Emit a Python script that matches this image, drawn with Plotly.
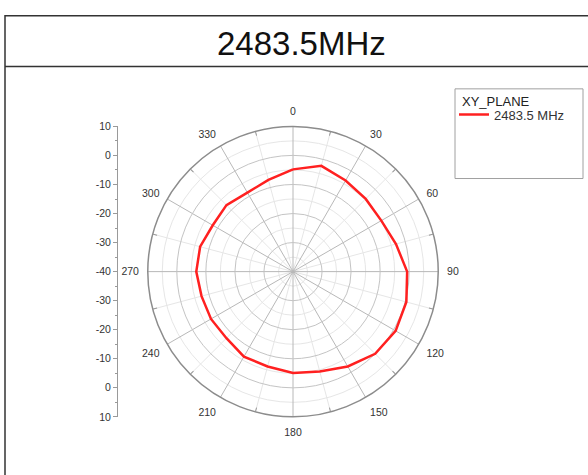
import plotly.graph_objects as go

# ---- data ----
angles = [0, 15, 30, 45, 60, 75, 90, 105, 120, 135, 150, 165,
          180, 195, 210, 225, 240, 255, 270, 285, 300, 315, 330, 345]
gain_db = [-4.8, -2.3, -3.8, -4.6, -4.9, -3.3, -0.7, 0.4, 0.8, 0.0, -2.3, -4.4,
           -5.1, -6.2, -6.2, -7.6, -7.4, -7.4, -6.7, -6.9, -8.1, -7.6, -8.6, -7.3]
series_name = "2483.5 MHz"
legend_title = "XY_PLANE"
chart_title = "2483.5MHz"
r_min, r_max = -40, 10
angle_ticks = list(range(0, 360, 30))
scale_ticks = list(range(-50, 51, 10))  # distance from centre (dB) on the side scale

W, H = 588, 475
cx, cy, R = 293, 272.5, 149
xdom = [(cx - R) / W, (cx + R) / W]
ydom = [(H - cy - R) / H, (H - cy + R) / H]

fig = go.Figure()

# dummy trace to activate the minor-grid polar
fig.add_trace(go.Scatterpolar(r=[], theta=[], subplot="polar", showlegend=False))
# dummy trace for the side scale
fig.add_trace(go.Scatter(x=[], y=[], xaxis="x", yaxis="y", showlegend=False))

r_closed = gain_db + gain_db[:1]
th_closed = angles + angles[:1]
fig.add_trace(go.Scatterpolar(
    r=r_closed, theta=th_closed, mode="lines", subplot="polar2",
    name=series_name, line=dict(color="#ff2020", width=2.5),
))

font_family = "Liberation Sans, Arial, sans-serif"
tick_size = 10.5

fig.update_layout(
    width=W, height=H,
    margin=dict(l=0, r=0, t=0, b=0),
    paper_bgcolor="white",
    plot_bgcolor="rgba(0,0,0,0)",
    font=dict(family=font_family, color="#333333", size=tick_size),
    polar=dict(
        domain=dict(x=xdom, y=ydom),
        bgcolor="rgba(0,0,0,0)",
        radialaxis=dict(range=[r_min, r_max], tick0=-35, dtick=10,
                        showticklabels=False, ticks="", showline=False,
                        gridcolor="#e6e6e6", gridwidth=1),
        angularaxis=dict(rotation=90, direction="clockwise",
                         tickvals=list(range(15, 360, 30)),
                         showticklabels=False, ticks="inside", ticklen=4,
                         tickcolor="#999999", showline=False,
                         gridcolor="#e6e6e6", gridwidth=1),
    ),
    polar2=dict(
        domain=dict(x=xdom, y=ydom),
        bgcolor="rgba(0,0,0,0)",
        radialaxis=dict(range=[r_min, r_max], dtick=10,
                        showticklabels=False, ticks="", showline=False,
                        gridcolor="#c4c4c4", gridwidth=1),
        angularaxis=dict(rotation=90, direction="clockwise",
                         tickvals=angle_ticks,
                         ticktext=[str(a) for a in angle_ticks],
                         ticks="outside", ticklen=6, tickcolor="rgba(0,0,0,0)",
                         showline=True, linecolor="#8c8c8c",
                         linewidth=1.5, gridcolor="#b8b8b8", gridwidth=1,
                         tickfont=dict(size=tick_size, color="#333333")),
    ),
    xaxis=dict(visible=False, domain=[0, 0.1], range=[0, 1]),
    yaxis=dict(anchor="free", position=117 / W, domain=ydom,
               range=[-(r_max - r_min), r_max - r_min],
               tickvals=scale_ticks,
               ticktext=[str(r_min + abs(v)) for v in scale_ticks],
               showline=True, linecolor="#9a9a9a", linewidth=1,
               ticks="outside", ticklen=4, tickcolor="#9a9a9a",
               minor=dict(dtick=5, ticks="outside", ticklen=2, tickcolor="#9a9a9a"),
               showgrid=False, zeroline=False,
               tickfont=dict(size=tick_size, color="#333333")),
    showlegend=True,
    legend=dict(x=454 / W, y=1 - 96 / H, xanchor="left", yanchor="top",
                bgcolor="rgba(0,0,0,0)", borderwidth=0,
                font=dict(size=13, color="#333333"),
                itemwidth=30, tracegroupgap=0),
    shapes=[
        dict(type="rect", xref="paper", yref="paper",
             x0=5 / W, x1=1.1, y0=-0.1, y1=1 - 10 / H,
             line=dict(color="#333333", width=1.5)),
        dict(type="line", xref="paper", yref="paper",
             x0=5 / W, x1=1.1, y0=1 - 62 / H, y1=1 - 62 / H,
             line=dict(color="#333333", width=1.5)),
        dict(type="rect", xref="paper", yref="paper",
             x0=455 / W, x1=583 / W, y0=1 - 177 / H, y1=1 - 85 / H,
             line=dict(color="#a0a0a0", width=1)),
    ],
    annotations=[
        dict(text=chart_title, xref="paper", yref="paper",
             x=301 / W, y=1 - 38 / H, xanchor="center", yanchor="middle",
             showarrow=False, font=dict(size=33, color="#111111", family=font_family)),
        dict(text=legend_title, xref="paper", yref="paper",
             x=460 / W, y=1 - 98 / H, xanchor="left", yanchor="middle",
             showarrow=False, font=dict(size=13, color="#222222", family=font_family)),
    ],
)

fig.write_html("out.html", config={"displayModeBar": False},
               post_script="document.body.style.margin='0';")
